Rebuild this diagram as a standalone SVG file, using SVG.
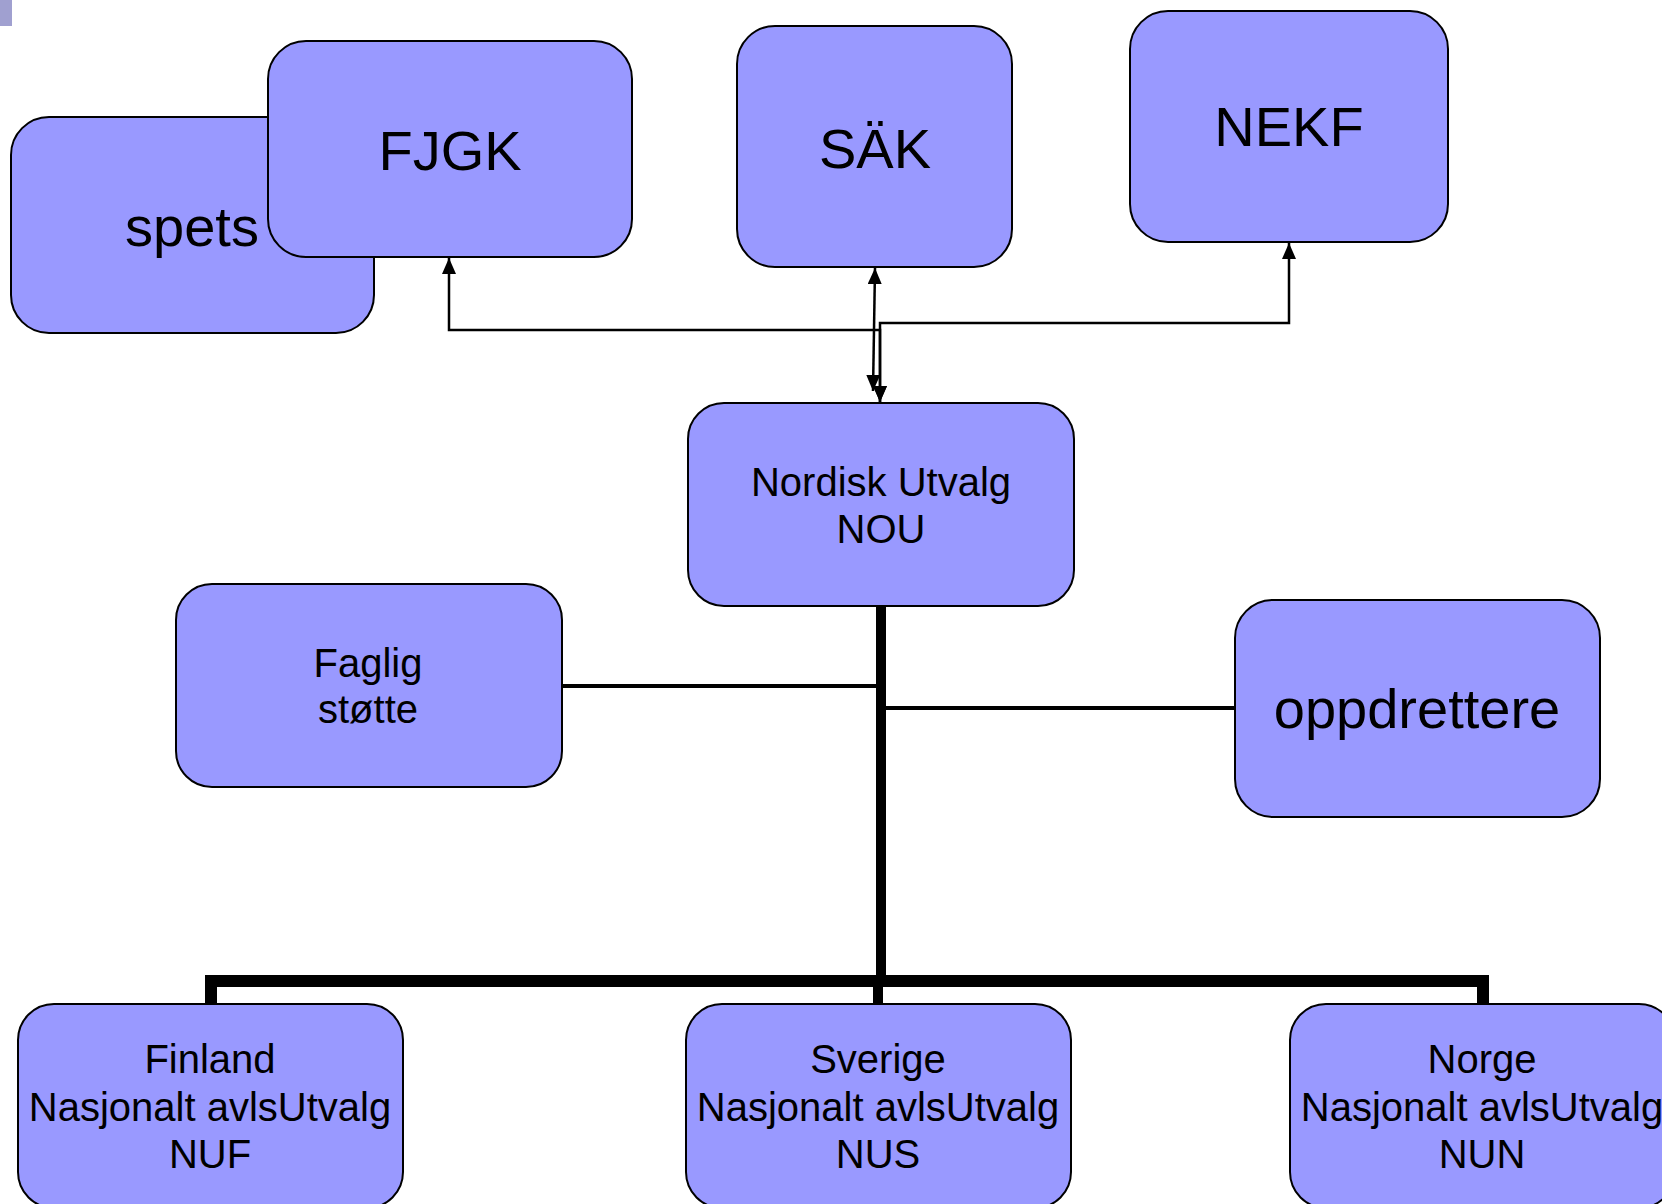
<svg xmlns="http://www.w3.org/2000/svg" width="1662" height="1204" viewBox="0 0 1662 1204">
<style>
.box{fill:#9999ff;stroke:#000;stroke-width:2}
.t{font-family:"Liberation Sans",Arial,sans-serif;fill:#000;text-anchor:middle}
.big{font-size:56px}
.sm{font-size:40px}
.thin{fill:none;stroke:#000;stroke-width:2.5}
.mid{fill:none;stroke:#000;stroke-width:4}
.thick{fill:none;stroke:#000;stroke-width:10}
</style>
<defs>
<marker id="ah" viewBox="0 0 16 14" refX="16" refY="7" markerWidth="16" markerHeight="14" markerUnits="userSpaceOnUse" orient="auto-start-reverse">
<path d="M0,0 L16,7 L0,14 Z" fill="#000"/>
</marker>
</defs>
<rect x="0" y="0" width="12" height="26" fill="#a0a0d0"/>
<g id="spets"><rect class="box" x="11" y="117" width="363" height="216" rx="38"/><text class="t big" x="192" y="246">spets</text></g>
<g id="fjgk"><rect class="box" x="268" y="41" width="364" height="216" rx="38"/><text class="t big" x="450" y="170">FJGK</text></g>
<g id="sak"><rect class="box" x="737" y="26" width="275" height="241" rx="38"/><text class="t big" x="875" y="168">SÄK</text></g>
<g id="nekf"><rect class="box" x="1130" y="11" width="318" height="231" rx="38"/><text class="t big" x="1289" y="146">NEKF</text></g>
<g id="nou"><rect class="box" x="688" y="403" width="386" height="203" rx="36"/><text class="t sm" x="881" y="496">Nordisk Utvalg</text><text class="t sm" x="881" y="543">NOU</text></g>
<g id="faglig"><rect class="box" x="176" y="584" width="386" height="203" rx="36"/><text class="t sm" x="368" y="677">Faglig</text><text class="t sm" x="368" y="723">støtte</text></g>
<g id="oppdrettere"><rect class="box" x="1235" y="600" width="365" height="217" rx="38"/><text class="t big" x="1417" y="728">oppdrettere</text></g>
<g id="finland"><rect class="box" x="18" y="1004" width="385" height="204" rx="36"/><text class="t sm" x="210" y="1073">Finland</text><text class="t sm" x="210" y="1121">Nasjonalt avlsUtvalg</text><text class="t sm" x="210" y="1168">NUF</text></g>
<g id="sverige"><rect class="box" x="686" y="1004" width="385" height="204" rx="36"/><text class="t sm" x="878" y="1073">Sverige</text><text class="t sm" x="878" y="1121">Nasjonalt avlsUtvalg</text><text class="t sm" x="878" y="1168">NUS</text></g>
<g id="norge"><rect class="box" x="1290" y="1004" width="385" height="204" rx="36"/><text class="t sm" x="1482" y="1073">Norge</text><text class="t sm" x="1482" y="1121">Nasjonalt avlsUtvalg</text><text class="t sm" x="1482" y="1168">NUN</text></g>
<g id="connectors">
<path class="thin" d="M875,268 L873,391" marker-start="url(#ah)" marker-end="url(#ah)"/>
<path class="thin" d="M880,402 V330 H449 V258" marker-start="url(#ah)" marker-end="url(#ah)"/>
<path class="thin" d="M880,402 V323 H1289 V243" marker-start="url(#ah)" marker-end="url(#ah)"/>
<path class="thick" d="M881,606 V981"/>
<path fill="none" stroke="#000" stroke-width="12" d="M211,1004 V981 H1483 V1004"/>
<path class="thick" d="M878,981 V1004"/>
<path class="mid" d="M562,686 H876"/>
<path class="mid" d="M886,708 H1235"/>
</g>
</svg>
